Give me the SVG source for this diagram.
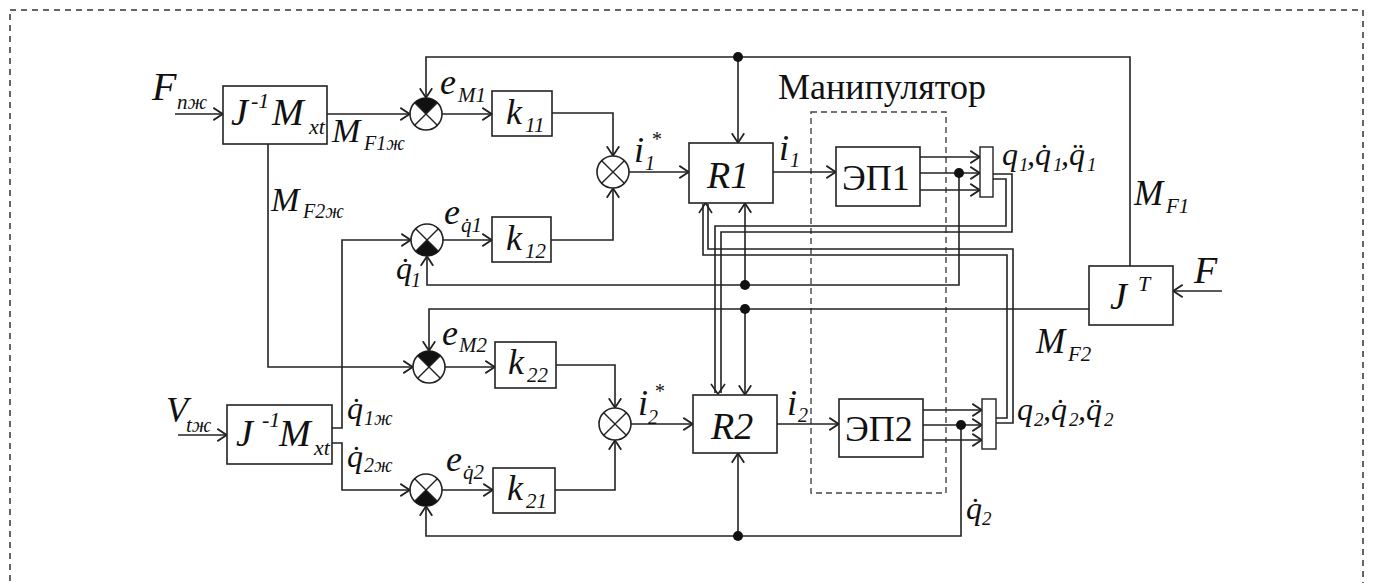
<svg xmlns="http://www.w3.org/2000/svg" width="1374" height="583" viewBox="0 0 1374 583">
<defs>
<style>
.ln{stroke:#222;stroke-width:1.6;fill:none}
.bx{fill:#fff;stroke:#222;stroke-width:1.6}
.bar{fill:#fff;stroke:#222;stroke-width:1.4}
.jc{fill:#fff;stroke:#222;stroke-width:1.6}
.jx{stroke:#222;stroke-width:1.4;fill:none}
.wd{fill:#111;stroke:none}
.dot{fill:#111}
.t{font-family:'Liberation Serif',serif;font-style:italic;fill:#111}
.u{font-family:'Liberation Serif',serif;font-style:normal;fill:#111}
.dash{fill:none;stroke:#333;stroke-width:1.5;stroke-dasharray:6 5}
.mdash{fill:none;stroke:#444;stroke-width:1.4;stroke-dasharray:6 4}
</style>
<marker id="ah" viewBox="0 0 11 14" refX="10.5" refY="7" markerWidth="11" markerHeight="14" markerUnits="userSpaceOnUse" orient="auto">
<path d="M0.8,0.8 L10.2,7 L0.8,13.2" fill="none" stroke="#222" stroke-width="1.8"/>
</marker>
</defs>

<rect class="dash" x="10" y="10" width="1353" height="610"/>

<g id="manipulator">
<rect class="mdash" x="811" y="112" width="135" height="381"/>
<text class="u" x="778" y="99" font-size="36">Манипулятор</text>
</g>

<g id="connectors">
<path class="ln" marker-end="url(#ah)" d="M175,114 H223"/>
<path class="ln" marker-end="url(#ah)" d="M327,114 H410"/>
<path class="ln" marker-end="url(#ah)" d="M442,114 H492"/>
<path class="ln" marker-end="url(#ah)" d="M1130,266 V57 H426 V98"/>
<path class="ln" marker-end="url(#ah)" d="M738,57 V143"/>
<path class="ln" marker-end="url(#ah)" d="M552,113 H613 V156"/>
<path class="ln" marker-end="url(#ah)" d="M551,240 H613 V188"/>
<path class="ln" marker-end="url(#ah)" d="M629,172 H689"/>
<path class="ln" marker-end="url(#ah)" d="M773,172 H836"/>
<path class="ln" marker-end="url(#ah)" d="M920,157 H980"/>
<path class="ln" marker-end="url(#ah)" d="M920,173 H980"/>
<path class="ln" marker-end="url(#ah)" d="M920,190 H980"/>
<path class="ln" marker-end="url(#ah)" d="M959,173 V285 H427 V256"/>
<path class="ln" marker-end="url(#ah)" d="M745,285 V203"/>
<path class="ln" marker-end="url(#ah)" d="M1089,309 H429 V351"/>
<path class="ln" marker-end="url(#ah)" d="M745,309 V395"/>
<path class="ln" marker-end="url(#ah)" d="M268,144 V367 H413"/>
<path class="ln" marker-end="url(#ah)" d="M445,367 H495"/>
<path class="ln" marker-end="url(#ah)" d="M556,365 H615 V408"/>
<path class="ln" marker-end="url(#ah)" d="M555,490 H615 V440"/>
<path class="ln" marker-end="url(#ah)" d="M631,424 H693"/>
<path class="ln" marker-end="url(#ah)" d="M777,424 H839"/>
<path class="ln" marker-end="url(#ah)" d="M923,410 H982"/>
<path class="ln" marker-end="url(#ah)" d="M923,425 H982"/>
<path class="ln" marker-end="url(#ah)" d="M923,440 H982"/>
<path class="ln" marker-end="url(#ah)" d="M961,425 V536 H426 V506"/>
<path class="ln" marker-end="url(#ah)" d="M738,536 V453"/>
<path class="ln" marker-end="url(#ah)" d="M332,428 H342 V240 H411"/>
<path class="ln" marker-end="url(#ah)" d="M332,443 H342 V490 H410"/>
<path class="ln" marker-end="url(#ah)" d="M178,435 H227"/>
<path class="ln" marker-end="url(#ah)" d="M443,240 H492"/>
<path class="ln" marker-end="url(#ah)" d="M442,490 H493"/>
<path class="ln" marker-end="url(#ah)" d="M1222,291 H1173"/>
<path class="ln" d="M993,174 H1012 V232 H721 V393"/>
<path class="ln" d="M993,179 H1006 V226 H715 V393"/>
<path class="ln" d="M711,384 L718,394 L725,384"/>
<path class="ln" d="M996,418 H1007 V255 H703 V204"/>
<path class="ln" d="M996,423 H1013 V249 H708 V204"/>
<path class="ln" d="M699,213 L705.5,203 L712,213"/>
<circle class="dot" cx="738" cy="57" r="5"/>
<circle class="dot" cx="745" cy="285" r="5"/>
<circle class="dot" cx="745" cy="309" r="5"/>
<circle class="dot" cx="738" cy="536" r="5"/>
<circle class="dot" cx="959" cy="173" r="5"/>
<circle class="dot" cx="961" cy="425" r="5"/>
</g>

<g id="blockA">
<rect class="bx" x="223" y="86" width="104" height="58"/>
<text class="t" font-size="38"><tspan x="231" y="125">J</tspan><tspan x="251" y="108" font-size="22">-1</tspan><tspan x="272" y="125">M</tspan><tspan x="309" y="134" font-size="22">xt</tspan></text>
</g>
<g id="blockB">
<rect class="bx" x="227" y="405" width="105" height="59"/>
<text class="t" font-size="38"><tspan x="236" y="446">J</tspan><tspan x="262" y="427" font-size="22">-1</tspan><tspan x="279" y="446">M</tspan><tspan x="314" y="455" font-size="22">xt</tspan></text>
</g>
<g id="k11">
<rect class="bx" x="492" y="91" width="60" height="45"/>
<text class="t" font-size="36"><tspan x="506" y="124">k</tspan><tspan x="525" y="132" font-size="21">11</tspan></text>
</g>
<g id="k12">
<rect class="bx" x="492" y="217" width="59" height="45"/>
<text class="t" font-size="36"><tspan x="506" y="250">k</tspan><tspan x="525" y="258" font-size="21">12</tspan></text>
</g>
<g id="k22">
<rect class="bx" x="495" y="342" width="61" height="46"/>
<text class="t" font-size="36"><tspan x="508" y="374">k</tspan><tspan x="527" y="382" font-size="21">22</tspan></text>
</g>
<g id="k21">
<rect class="bx" x="493" y="468" width="62" height="45"/>
<text class="t" font-size="36"><tspan x="507" y="500">k</tspan><tspan x="526" y="508" font-size="21">21</tspan></text>
</g>
<g id="R1">
<rect class="bx" x="689" y="143" width="84" height="60"/>
<text class="t" x="707" y="188" font-size="38">R1</text>
</g>
<g id="R2">
<rect class="bx" x="693" y="395" width="84" height="58"/>
<text class="t" x="711" y="439" font-size="38">R2</text>
</g>
<g id="EP1">
<rect class="bx" x="836" y="147" width="84" height="59"/>
<text class="u" x="842" y="190" font-size="36">ЭП1</text>
</g>
<g id="EP2">
<rect class="bx" x="839" y="399" width="84" height="58"/>
<text class="u" x="845" y="441" font-size="36">ЭП2</text>
</g>
<g id="JT">
<rect class="bx" x="1089" y="266" width="84" height="59"/>
<text class="t" font-size="38"><tspan x="1110" y="309">J</tspan><tspan x="1138" y="291" font-size="22">T</tspan></text>
</g>
<g id="bar1"><rect class="bar" x="980" y="147" width="13" height="50"/></g>
<g id="bar2"><rect class="bar" x="982" y="399" width="14" height="50"/></g>

<g id="S1">
<circle class="jc" cx="426" cy="114" r="16"/>
<path class="wd" d="M426,114 L414.7,102.7 A16,16 0 0 1 437.3,102.7 Z"/>
<path class="jx" d="M414.7,102.7 L437.3,125.3 M414.7,125.3 L437.3,102.7"/>
</g>
<g id="S2">
<circle class="jc" cx="427" cy="240" r="16"/>
<path class="wd" d="M427,240 L438.3,251.3 A16,16 0 0 1 415.7,251.3 Z"/>
<path class="jx" d="M415.7,228.7 L438.3,251.3 M415.7,251.3 L438.3,228.7"/>
</g>
<g id="S3">
<circle class="jc" cx="429" cy="367" r="16"/>
<path class="wd" d="M429,367 L417.7,355.7 A16,16 0 0 1 440.3,355.7 Z"/>
<path class="jx" d="M417.7,355.7 L440.3,378.3 M417.7,378.3 L440.3,355.7"/>
</g>
<g id="S4">
<circle class="jc" cx="426" cy="490" r="16"/>
<path class="wd" d="M426,490 L437.3,501.3 A16,16 0 0 1 414.7,501.3 Z"/>
<path class="jx" d="M414.7,478.7 L437.3,501.3 M414.7,501.3 L437.3,478.7"/>
</g>
<g id="S5">
<circle class="jc" cx="613" cy="172" r="16"/>
<path class="jx" d="M601.7,160.7 L624.3,183.3 M601.7,183.3 L624.3,160.7"/>
</g>
<g id="S6">
<circle class="jc" cx="615" cy="424" r="16"/>
<path class="jx" d="M603.7,412.7 L626.3,435.3 M603.7,435.3 L626.3,412.7"/>
</g>

<g id="labels">
<text class="t" font-size="40"><tspan x="152" y="100">F</tspan><tspan x="177" y="109" font-size="21">nж</tspan></text>
<text class="t" font-size="36"><tspan x="166" y="422">V</tspan><tspan x="186" y="432" font-size="21">tж</tspan></text>
<text class="t" font-size="34"><tspan x="332" y="142">M</tspan><tspan x="364" y="150" font-size="20">F1ж</tspan></text>
<text class="t" font-size="34"><tspan x="271" y="211">M</tspan><tspan x="303" y="218" font-size="20">F2ж</tspan></text>
<text class="t" font-size="36"><tspan x="440" y="94">e</tspan><tspan x="458" y="102" font-size="21">M1</tspan></text>
<text class="t" font-size="36"><tspan x="444" y="224">e</tspan><tspan x="461" y="232" font-size="21">q&#x307;1</tspan></text>
<text class="t" font-size="36"><tspan x="442" y="345">e</tspan><tspan x="459" y="352" font-size="21">M2</tspan></text>
<text class="t" font-size="36"><tspan x="446" y="471">e</tspan><tspan x="463" y="479" font-size="21">q&#x307;2</tspan></text>
<text class="t" font-size="32"><tspan x="396" y="279">q&#x307;</tspan><tspan x="411" y="287" font-size="20">1</tspan></text>
<text class="t" font-size="32"><tspan x="347" y="419">q&#x307;</tspan><tspan x="364" y="425" font-size="20">1ж</tspan></text>
<text class="t" font-size="32"><tspan x="347" y="467">q&#x307;</tspan><tspan x="364" y="472" font-size="20">2ж</tspan></text>
<text class="t" font-size="36"><tspan x="634" y="162">i</tspan><tspan x="645" y="170" font-size="20">1</tspan></text>
<text class="t" x="651" y="146" font-size="20">*</text>
<text class="t" font-size="36"><tspan x="638" y="415">i</tspan><tspan x="648" y="424" font-size="20">2</tspan></text>
<text class="t" x="654" y="398" font-size="20">*</text>
<text class="t" font-size="36"><tspan x="779" y="160">i</tspan><tspan x="790" y="167" font-size="20">1</tspan></text>
<text class="t" font-size="36"><tspan x="787" y="415">i</tspan><tspan x="798" y="422" font-size="20">2</tspan></text>
<text class="t" font-size="32"><tspan x="1002" y="165">q</tspan><tspan x="1019" y="171" font-size="19">1</tspan><tspan x="1027" y="165">,q&#x307;</tspan><tspan x="1053" y="171" font-size="19">1</tspan><tspan x="1061" y="165">,q&#x308;</tspan><tspan x="1087" y="171" font-size="19">1</tspan></text>
<text class="t" font-size="32"><tspan x="1017" y="420">q</tspan><tspan x="1034" y="426" font-size="19">2</tspan><tspan x="1043" y="420">,q&#x307;</tspan><tspan x="1069" y="426" font-size="19">2</tspan><tspan x="1078" y="420">,q&#x308;</tspan><tspan x="1104" y="426" font-size="19">2</tspan></text>
<text class="t" font-size="32"><tspan x="966" y="519">q&#x307;</tspan><tspan x="982" y="525" font-size="19">2</tspan></text>
<text class="t" font-size="35"><tspan x="1134" y="205">M</tspan><tspan x="1166" y="213" font-size="21">F1</tspan></text>
<text class="t" font-size="35"><tspan x="1036" y="353">M</tspan><tspan x="1068" y="361" font-size="21">F2</tspan></text>
<text class="t" x="1194" y="283" font-size="38">F</text>
</g>
</svg>
